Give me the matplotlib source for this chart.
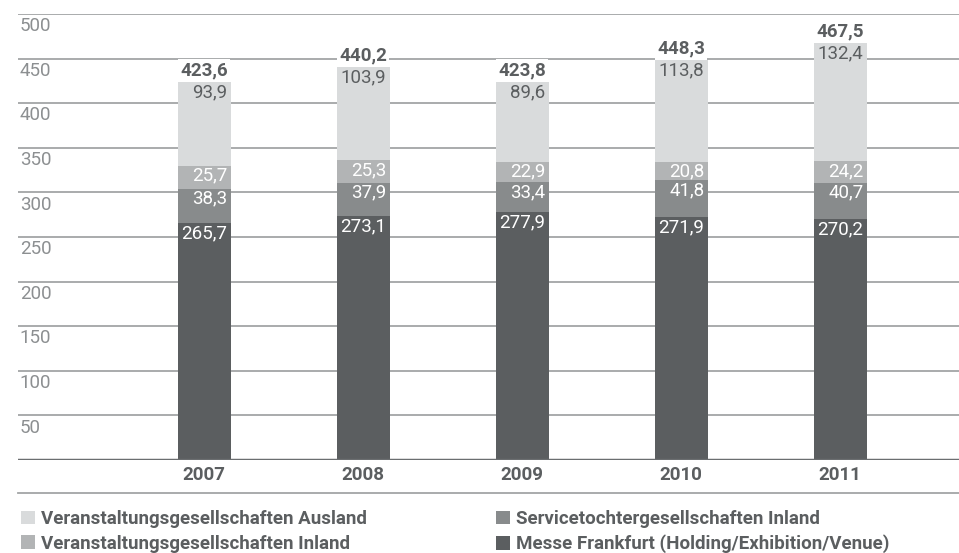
import matplotlib.pyplot as plt
import numpy as np

# Umsatz nach Segmenten (Mio. €)
years = ['2007', '2008', '2009', '2010', '2011']
messe = [265.7, 273.1, 277.9, 271.9, 270.2]
service = [38.3, 37.9, 33.4, 41.8, 40.7]
inland = [25.7, 25.3, 22.9, 20.8, 24.2]
ausland = [93.9, 103.9, 89.6, 113.8, 132.4]
totals = [423.6, 440.2, 423.8, 448.3, 467.5]
yticks = [50, 100, 150, 200, 250, 300, 350, 400, 450, 500]

labels = ['Veranstaltungsgesellschaften Ausland',
          'Veranstaltungsgesellschaften Inland',
          'Servicetochtergesellschaften Inland',
          'Messe Frankfurt (Holding/Exhibition/Venue)']

c_aus = '#d9dbdc'
c_inl = '#b2b4b5'
c_srv = '#888b8c'
c_mes = '#5b5e60'
c_grid = '#a3a5a6'
c_tick = '#8c8f91'

num_font = ['Roboto', 'DejaVu Sans']


def fmt(v):
    return f'{v:.1f}'.replace('.', ',')


fig = plt.figure(figsize=(9.59, 5.53), dpi=100)
ax = fig.add_axes([18 / 959, 1 - 460 / 553, 941 / 959, 446 / 553])

x = np.arange(len(years))
w = 0.333
ax.set_xlim(-1.17, 4.748)
ax.set_ylim(0, 500)

for v in yticks:
    ax.axhline(v, color=c_grid, lw=1.3, zorder=0)
    ax.text(0.002, v - 3.5, str(v), transform=ax.get_yaxis_transform(),
            ha='left', va='top', fontsize=13.5, color=c_tick, family=num_font)
ax.axhline(0, color='#6b6e70', lw=2.5, zorder=3)

series = [(messe, c_mes, labels[3], 'white'),
          (service, c_srv, labels[2], 'white'),
          (inland, c_inl, labels[1], 'white'),
          (ausland, c_aus, labels[0], c_mes)]

bottom = np.zeros(len(years))
handles = {}
for vals, col, lab, tcol in series:
    vals = np.array(vals)
    b = ax.bar(x, vals, w, bottom=bottom, color=col, label=lab, zorder=2)
    handles[lab] = b
    for i in range(len(years)):
        top = bottom[i] + vals[i]
        ax.text(x[i] + w / 2 - 0.02, top - 1, fmt(vals[i]), ha='right', va='top',
                fontsize=13.5, color=tcol, family=num_font, zorder=4)
    bottom += vals

for i, t in enumerate(totals):
    ax.text(x[i], t + 3, fmt(t), ha='center', va='bottom', fontsize=13.5,
            fontweight='bold', color=c_mes, family=num_font, zorder=4,
            bbox=dict(facecolor='white', edgecolor='none', pad=1.5))

ax.set_xticks(x)
ax.set_xticklabels(years, fontsize=13.5, fontweight='bold', color=c_mes, family=num_font)
ax.tick_params(axis='x', length=0, pad=4)
ax.set_yticks([])
for s in ax.spines.values():
    s.set_visible(False)

# Trennlinie über der Legende
fig.add_artist(plt.Line2D([18 / 959, 1], [1 - 493 / 553] * 2, color=c_grid, lw=1.3))

legend_kw = dict(loc='upper left', frameon=False, handlelength=0.75, handleheight=0.75,
                 handletextpad=0.3, labelspacing=0.35, borderpad=0, borderaxespad=0,
                 prop={'family': num_font, 'weight': 'bold', 'size': 13.5})
leg1 = fig.legend([handles[l] for l in labels[:2]], labels[:2],
                  bbox_to_anchor=(21 / 959, 1 - 510 / 553), **legend_kw)
leg2 = fig.legend([handles[l] for l in labels[2:]], labels[2:],
                  bbox_to_anchor=(496 / 959, 1 - 510 / 553), **legend_kw)
for leg in (leg1, leg2):
    for t in leg.get_texts():
        t.set_color(c_mes)

fig.savefig('out.png', dpi=100)
